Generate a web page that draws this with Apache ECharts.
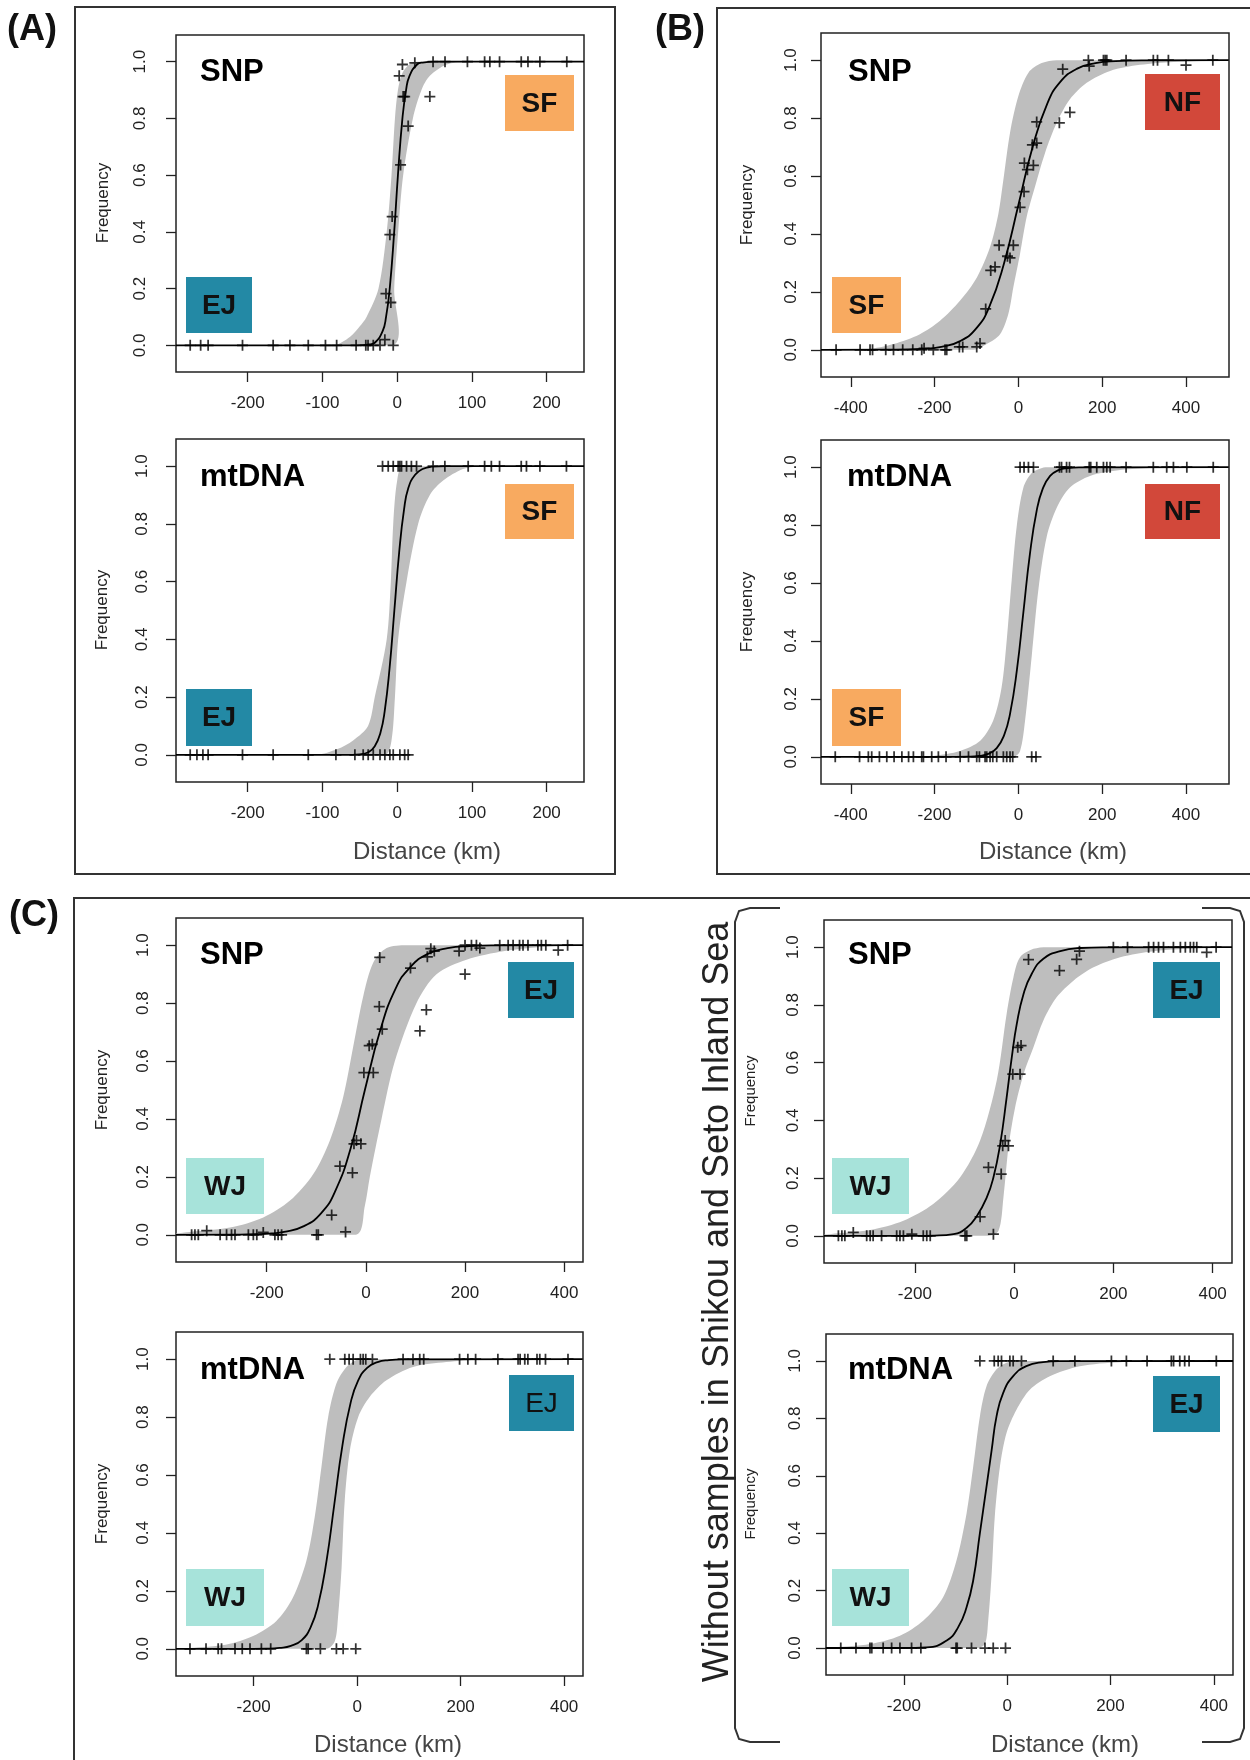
<!DOCTYPE html>
<html>
<head>
<meta charset="utf-8">
<script src="https://cdn.jsdelivr.net/npm/echarts@6/dist/echarts.min.js"></script>
<style>
  html, body { margin: 0; padding: 0; background: #fff; }
  #chart { width: 1250px; height: 1760px; }
</style>
</head>
<body>
<div id="chart"></div>
<script>
// tick labels
var ticksA = [-200, -100, 0, 100, 200];
var ticksB = [-400, -200, 0, 200, 400];
var ticksC = [-200, 0, 200, 400];
var yTicks = [0, 0.2, 0.4, 0.6, 0.8, 1.0];

// (A) SNP  EJ -> SF
var aSnpZero = [-277, -263, -253, -207, -166, -143.5, -119, -96, -81, -55, -42, -39, -32, -23, -5.3];
var aSnpOne = [48, 64, 94, 117, 124, 137, 166, 175, 191, 227];
var aSnpMid = [[-16.5, 0.02], [-15, 0.182], [-8.5, 0.151], [-9.8, 0.39], [-6.7, 0.454], [4.5, 0.636], [14.7, 0.773],
  [8, 0.877], [10, 0.877], [43.7, 0.877], [2.7, 0.95], [7, 0.99], [23.6, 0.996]];
var aSnpCurve = [[-296, 0], [-60, 0], [-45, 0.001], [-37, 0.003], [-29.6, 0.01], [-19.5, 0.05], [-14.9, 0.1],
  [-10, 0.2], [-4, 0.4], [1, 0.6], [7, 0.8], [11.9, 0.9], [16.5, 0.95], [26.6, 0.99], [34, 0.997], [50, 1], [250, 1]];
var aSnpHi = [[-296, 0], [-85, 0], [-63, 0.03], [-50, 0.067], [-41, 0.1], [-25, 0.2], [-14, 0.4], [-7.6, 0.6],
  [-3, 0.8], [1, 0.9], [7, 0.96], [16, 0.99], [26, 1], [250, 1]];
var aSnpLo = [[-296, 0], [-6, 0], [-4, 0.2], [1.3, 0.4], [8, 0.6], [21, 0.8], [32.5, 0.9], [43.7, 0.95],
  [66, 0.99], [90, 0.999], [250, 0.999]];

// (A) mtDNA
var aMtZero = [-277, -268, -260, -253, -207, -166, -119, -82, -56.6, -45.5, -38.8, -32, -23, -16.5, -9.8, -5.3, 3.6, 10, 14.7];
var aMtOne = [-19.6, -12, -5.3, 1.3, 3.6, 5.8, 12.5, 19, 25.9, 48, 63.8, 95, 117, 126, 137, 166, 173, 191, 226.5];
var aMtCurve = [[-296, 0], [-70, 0], [-50, 0.002], [-38, 0.01], [-30, 0.03], [-22.6, 0.075], [-16.8, 0.15],
  [-10.2, 0.3], [-3.8, 0.5], [2.6, 0.7], [9.2, 0.85], [15, 0.925], [24, 0.97], [34, 0.99], [46, 0.998], [65, 1], [250, 1]];
var aMtHi = [[-296, 0], [-108, 0], [-80, 0.02], [-59, 0.05], [-39, 0.1], [-30, 0.2], [-14, 0.4], [-8.5, 0.6],
  [-5.3, 0.8], [0, 0.95], [8, 1], [250, 1]];
var aMtLo = [[-296, 0], [-16.5, 0], [-7.6, 0.05], [-3, 0.2], [1.3, 0.4], [12.5, 0.6], [28, 0.8], [43.7, 0.9],
  [61.5, 0.95], [88, 0.99], [110, 0.999], [250, 0.999]];

// (B) SNP  SF -> NF
var bSnpZero = [-435, -377.7, -354, -348, -316.5, -298, -276, -252, -230.6, -203, -175, -171];
var bSnpOne = [167, 203, 207, 211, 257, 322, 332, 358, 464];
var bSnpMid = [[-225, 0.005], [-140.8, 0.01], [-132.8, 0.01], [-99.4, 0.01], [-91.5, 0.022], [-78, 0.141],
  [-66, 0.274], [-55.7, 0.286], [-46, 0.361], [-26, 0.323], [-20, 0.317], [-12, 0.361], [4, 0.492], [13.5, 0.546],
  [14.3, 0.645], [21.5, 0.622], [35.8, 0.637], [33.4, 0.708], [43.7, 0.714], [43.7, 0.787], [97.8, 0.784],
  [123, 0.82], [105.8, 0.969], [169, 0.98], [400, 0.983]];
var bSnpCurve = [[-471, 0], [-300, 0.0005], [-232, 0.003], [-184, 0.01], [-139, 0.03], [-100, 0.075], [-69, 0.15],
  [-34, 0.3], [0, 0.5], [34, 0.7], [69, 0.85], [100, 0.925], [139, 0.97], [184, 0.99], [232, 0.997], [300, 0.9995], [502, 1]];
var bSnpHi = [[-471, 0], [-362, 0.002], [-298, 0.02], [-235, 0.054], [-187, 0.1], [-139, 0.17], [-99, 0.25],
  [-67.6, 0.355], [-47.7, 0.47], [-35.8, 0.587], [-20, 0.749], [0, 0.876], [24, 0.957], [55.7, 0.99], [91.5, 1], [502, 1]];
var bSnpLo = [[-471, 0], [-107, 0], [-75.5, 0.02], [-43.7, 0.054], [-24, 0.124], [-12, 0.216], [4, 0.332],
  [20, 0.46], [39.8, 0.564], [63.6, 0.68], [91.5, 0.784], [123, 0.865], [163, 0.922], [219, 0.963], [290, 0.984],
  [370, 0.994], [502, 0.999]];

// (B) mtDNA
var bMtZero = [-437, -379, -358, -350, -331.6, -314, -296.6, -278, -262, -250.5, -230.6, -226.6, -206.8, -190.9,
  -172.6, -139, -119, -99.4, -93, -79.5, -75.5, -67.6, -61, -51.7, -35.8, -27.8, -19.9, -13.5, 31.8, 42];
var bMtOne = [4, 13.5, 24, 36, 98, 103, 115, 122, 169, 172.6, 187, 203, 211, 219, 257, 322, 354, 370, 402, 465];
var bMtCurve = [[-471, 0], [-150, 0], [-120, 0.0005], [-94, 0.003], [-72, 0.01], [-51.7, 0.03], [-34, 0.075],
  [-19.7, 0.15], [-3.5, 0.3], [12, 0.5], [27.5, 0.7], [43.7, 0.85], [58, 0.925], [75.7, 0.97], [96, 0.99],
  [118, 0.997], [145, 0.9995], [502, 1]];
var bMtHi = [[-471, 0], [-235, 0], [-203, 0.003], [-139, 0.02], [-91, 0.055], [-60, 0.125], [-40, 0.24],
  [-28, 0.4], [-16, 0.61], [-4, 0.795], [12, 0.93], [32, 0.98], [60, 0.999], [80, 1], [502, 1]];
var bMtLo = [[-471, 0], [-12, 0], [4, 0.02], [16, 0.125], [32, 0.35], [48, 0.58], [67.6, 0.76], [91.5, 0.86],
  [123, 0.93], [171, 0.97], [243, 0.99], [322, 0.997], [502, 0.999]];

// (C) SNP  WJ -> EJ
var cSnpZero = [-351.5, -344.8, -338, -294, -281, -271, -264, -237, -227, -220, -183.5, -177, -170, -99.5, -96];
var cSnpOne = [200, 213, 223, 270, 287, 297, 310, 317, 327, 347, 354, 363, 407];
var cSnpMid = [[-321, 0.014], [-207, 0.008], [-41, 0.01], [-69, 0.068], [-52.4, 0.237], [-27, 0.214],
  [-24, 0.314], [-19, 0.326], [-10, 0.314], [-4, 0.56], [15, 0.56], [6.7, 0.653], [13, 0.658], [27, 0.788],
  [33, 0.71], [28, 0.958], [90, 0.921], [109, 0.704], [122, 0.777], [124, 0.96], [131, 0.988], [138, 0.98],
  [188, 0.98], [200, 0.9], [230, 0.99], [388, 0.983]];
var cSnpCurve = [[-383, 0], [-260, 0.0008], [-223, 0.002], [-190, 0.005], [-165, 0.01], [-125, 0.03], [-90, 0.075],
  [-62, 0.15], [-30.5, 0.3], [-2, 0.5], [28, 0.7], [60, 0.85], [90, 0.925], [125, 0.97], [165, 0.99], [209, 0.997],
  [260, 0.9992], [438, 1]];
var cSnpHi = [[-383, 0.004], [-355, 0.01], [-274, 0.025], [-207, 0.06], [-153, 0.118], [-106, 0.21],
  [-72.6, 0.326], [-45.7, 0.476], [-25.5, 0.65], [-5.4, 0.823], [15, 0.94], [42, 0.99], [82, 1], [438, 1]];
var cSnpLo = [[-383, 0], [-20, 0], [-2, 0.1], [8, 0.2], [31.6, 0.4], [58.5, 0.6], [102, 0.8], [142.5, 0.9],
  [203, 0.95], [280, 0.98], [360, 0.995], [438, 0.998]];

// (C) mtDNA
var cMtZero = [-323, -292, -268.5, -262, -236, -222, -207, -185, -167, -98, -94.6, -71, -40, -27, -2.6];
var cMtOne = [-52.8, -23.8, -15.5, -7.7, 6.4, 11.6, 16.7, 29.6, 88.8, 108, 121, 128.7, 198, 214, 229, 272, 311,
  315, 324, 330, 347.6, 353, 364, 407.5];
var cMtCurve = [[-350, 0], [-200, 0], [-175, 0.0005], [-150, 0.003], [-128, 0.01], [-107, 0.03], [-89.7, 0.075],
  [-75.5, 0.15], [-59.4, 0.3], [-44, 0.5], [-28.6, 0.7], [-12.5, 0.85], [1.7, 0.925], [19.3, 0.97], [39.6, 0.99],
  [61.6, 0.997], [88, 0.9995], [436, 1]];
var cMtHi = [[-350, 0], [-323, 0.003], [-252, 0.015], [-201, 0.044], [-156, 0.096], [-124, 0.177], [-98, 0.304],
  [-82, 0.454], [-69, 0.627], [-56, 0.8], [-40, 0.916], [-20.6, 0.973], [-1, 0.997], [18, 1], [436, 1]];
var cMtLo = [[-350, 0], [-59, 0], [-43, 0.027], [-37, 0.107], [-30, 0.28], [-24, 0.51], [-14, 0.685], [2, 0.8],
  [24.5, 0.87], [56.7, 0.927], [108, 0.973], [172.5, 0.99], [237, 0.998], [436, 0.999]];

// (C) without Shikou / Seto Inland Sea, SNP
var dSnpZero = [-354, -347, -341, -297, -290, -284, -267, -236.6, -230, -223, -183, -176, -169, -98.8, -95.4];
var dSnpOne = [200, 228.5, 271, 281, 291, 301, 321, 335, 345, 355, 361.6, 368, 407];
var dSnpMid = [[-324, 0.012], [-206, 0.006], [-41.7, 0.006], [-68.5, 0.066], [-51.7, 0.237], [-26, 0.214],
  [-23, 0.312], [-18, 0.33], [-11.4, 0.312], [-2.7, 0.56], [12, 0.56], [7.4, 0.653], [14, 0.659], [29, 0.957],
  [91.4, 0.919], [126, 0.958], [131.7, 0.986], [388, 0.982]];
var dSnpCurve = [[-383, 0], [-200, 0], [-160, 0.001], [-122, 0.006], [-95, 0.029], [-75, 0.069], [-55, 0.133],
  [-41.7, 0.202], [-28, 0.318], [-15, 0.48], [-4.7, 0.618], [5.4, 0.734], [19, 0.838], [35.6, 0.908], [59, 0.96],
  [93, 0.986], [133, 0.997], [180, 0.9995], [439, 1]];
var dSnpHi = [[-383, 0.004], [-371, 0.006], [-290, 0.02], [-223, 0.052], [-163, 0.11], [-109, 0.202],
  [-68.5, 0.33], [-35, 0.538], [-15, 0.769], [-1.3, 0.896], [12, 0.965], [39, 0.994], [66, 1], [439, 1]];
var dSnpLo = [[-383, 0], [-55, 0], [-31.6, 0.017], [-21.5, 0.133], [-11.4, 0.306], [2, 0.445], [19, 0.56],
  [39, 0.653], [59, 0.746], [86, 0.827], [119.6, 0.884], [160, 0.93], [213.7, 0.965], [281, 0.986], [382, 0.997],
  [439, 0.998]];

// (C) without Shikou / Seto Inland Sea, mtDNA
var dMtZero = [-322, -292.6, -265.5, -262, -240, -223.6, -207.5, -185, -167, -99, -96.7, -69, -43, -27, -3.2];
var dMtOne = [-52.8, -25, -17.4, -11, 5.2, 11.6, 27.7, 89, 131, 201.7, 230.7, 270.7, 317.7, 322, 334, 343.5, 352, 404.7];
var dMtCurve = [[-351, 0], [-200, 0], [-156, 0.002], [-117, 0.026], [-95, 0.072], [-78.6, 0.142], [-65.7, 0.236],
  [-52.8, 0.4], [-40, 0.562], [-30, 0.69], [-20.6, 0.807], [-7.7, 0.889], [11.6, 0.947], [37, 0.982],
  [69.6, 0.996], [100, 0.9995], [437, 1]];
var dMtHi = [[-351, 0], [-336, 0.002], [-265.5, 0.014], [-207.5, 0.043], [-162, 0.096], [-124, 0.177],
  [-98, 0.306], [-78.6, 0.469], [-65.7, 0.632], [-52.8, 0.807], [-40, 0.912], [-20.6, 0.971], [-1.3, 0.994],
  [18, 1], [437, 1]];
var dMtLo = [[-351, 0], [-59, 0], [-43, 0.014], [-36.7, 0.096], [-30, 0.26], [-24, 0.457], [-14, 0.632],
  [-1.3, 0.749], [18, 0.83], [43.8, 0.9], [82.5, 0.947], [140.5, 0.982], [218, 0.996], [314.5, 0.999], [437, 0.999]];

var FONT = '"Liberation Sans", Arial, Helvetica, sans-serif';
var PLUS = 'path://M4.2,0H5.8V4.2H10V5.8H5.8V10H4.2V5.8H0V4.2H4.2Z';
var COL = { EJ: '#2389a5', SF: '#f8aa60', NF: '#d2483a', WJ: '#a7e3da' };

function pts(zero, one, mid) {
  return zero.map(function (x) { return [x, 0]; })
    .concat(one.map(function (x) { return [x, 1]; }), mid || []);
}

var panels = [
  { grid: [176, 35, 408, 337], x: [-296, 250], ticks: ticksA, yGap: 27, data: pts(aSnpZero, aSnpOne, aSnpMid),
    curve: aSnpCurve, hi: aSnpHi, lo: aSnpLo, tag: 'SNP', tagXY: [200, 72], freq: [103, 203],
    boxes: [['EJ', 186, 277, 66, 56], ['SF', 505, 75, 69, 56]] },
  { grid: [176, 439, 408, 343], x: [-296, 250], ticks: ticksA, yGap: 25, data: pts(aMtZero, aMtOne),
    curve: aMtCurve, hi: aMtHi, lo: aMtLo, tag: 'mtDNA', tagXY: [200, 477], freq: [102, 610], dist: [427, 852],
    boxes: [['EJ', 186, 689, 66, 57], ['SF', 505, 484, 69, 55]] },
  { grid: [821, 33, 408, 344], x: [-471, 502.6], ticks: ticksB, yGap: 21, data: pts(bSnpZero, bSnpOne, bSnpMid),
    curve: bSnpCurve, hi: bSnpHi, lo: bSnpLo, tag: 'SNP', tagXY: [848, 72], freq: [747, 205],
    boxes: [['SF', 832, 277, 69, 56], ['NF', 1145, 74, 75, 56]] },
  { grid: [821, 440, 408, 344], x: [-471, 502.6], ticks: ticksB, yGap: 21, data: pts(bMtZero, bMtOne),
    curve: bMtCurve, hi: bMtHi, lo: bMtLo, tag: 'mtDNA', tagXY: [847, 477], freq: [747, 612], dist: [1053, 852],
    boxes: [['SF', 832, 689, 69, 57], ['NF', 1145, 484, 75, 55]] },
  { grid: [176, 918, 407, 344], x: [-383, 438], ticks: ticksC, yGap: 24, data: pts(cSnpZero, cSnpOne, cSnpMid),
    curve: cSnpCurve, hi: cSnpHi, lo: cSnpLo, tag: 'SNP', tagXY: [200, 955], freq: [102, 1090],
    boxes: [['WJ', 186, 1158, 78, 56], ['EJ', 508, 962, 66, 56]] },
  { grid: [176, 1332, 407, 344], x: [-350, 436.5], ticks: ticksC, yGap: 24, data: pts(cMtZero, cMtOne),
    curve: cMtCurve, hi: cMtHi, lo: cMtLo, tag: 'mtDNA', tagXY: [200, 1370], freq: [102, 1504], dist: [388, 1745],
    boxes: [['WJ', 186, 1569, 78, 57], ['EJ', 509, 1375, 65, 56, 'normal']] },
  { grid: [824, 920, 408, 343], x: [-383, 439], ticks: ticksC, yGap: 22, data: pts(dSnpZero, dSnpOne, dSnpMid),
    curve: dSnpCurve, hi: dSnpHi, lo: dSnpLo, tag: 'SNP', tagXY: [848, 955], freq: [751, 1091], freqSize: 15,
    boxes: [['WJ', 832, 1158, 77, 56], ['EJ', 1153, 962, 67, 56]] },
  { grid: [826, 1334, 407, 341], x: [-350.6, 437], ticks: ticksC, yGap: 22, data: pts(dMtZero, dMtOne),
    curve: dMtCurve, hi: dMtHi, lo: dMtLo, tag: 'mtDNA', tagXY: [848, 1370], freq: [751, 1504], freqSize: 15,
    dist: [1065, 1745], boxes: [['WJ', 832, 1569, 77, 57], ['EJ', 1153, 1376, 67, 56]] }
];

function bandItem(hi, lo) {
  return function (params, api) {
    if (params.dataIndex !== 0) return;
    var poly = hi.map(function (p) { return api.coord(p); })
      .concat(lo.slice().reverse().map(function (p) { return api.coord(p); }));
    // keep the smoothed outline inside the points' own bounding box
    var box = [[poly[0][0], poly[0][1]], [poly[0][0], poly[0][1]]];
    return {
      type: 'polygon',
      shape: { points: poly, smooth: 0.3, smoothConstraint: box },
      style: { fill: '#bebebe' }
    };
  };
}

var frameStyle = { fill: 'none', stroke: '#333', lineWidth: 2 };
var grids = [], xAxes = [], yAxes = [], series = [];
var graphics = [
  // panel frames
  { type: 'rect', shape: { x: 75, y: 7, width: 540, height: 867 }, style: frameStyle },
  { type: 'rect', shape: { x: 717, y: 8, width: 560, height: 866 }, style: frameStyle },
  { type: 'rect', shape: { x: 74, y: 898, width: 1200, height: 900 }, style: frameStyle },
  { type: 'text', x: 7, y: 30, style: { text: '(A)', font: 'bold 36px ' + FONT, fill: '#111', textVerticalAlign: 'middle' } },
  { type: 'text', x: 655, y: 30, style: { text: '(B)', font: 'bold 36px ' + FONT, fill: '#111', textVerticalAlign: 'middle' } },
  { type: 'text', x: 9, y: 916, style: { text: '(C)', font: 'bold 36px ' + FONT, fill: '#111', textVerticalAlign: 'middle' } },
  // bracket around the right half of (C)
  { type: 'polyline', shape: { points: [[780, 908], [750, 908], [739, 911], [735, 922], [735, 1728], [739, 1739], [750, 1742], [780, 1742]] },
    style: frameStyle },
  { type: 'polyline', shape: { points: [[1202, 908], [1230, 908], [1240, 911], [1244, 922], [1244, 1728], [1240, 1739], [1230, 1742], [1202, 1742]] },
    style: frameStyle },
  { type: 'text', x: 718, y: 1302, rotation: Math.PI / 2,
    style: { text: 'Without samples in Shikou and Seto Inland Sea', font: '36px ' + FONT, fill: '#222',
      textAlign: 'center', textVerticalAlign: 'middle' } }
];

panels.forEach(function (p, i) {
  grids.push({ left: p.grid[0], top: p.grid[1], width: p.grid[2], height: p.grid[3], show: true,
    borderColor: '#222', borderWidth: 1.5, backgroundColor: 'transparent', containLabel: false });
  xAxes.push({
    gridIndex: i, type: 'value', min: p.x[0], max: p.x[1], position: 'bottom',
    axisLine: { show: false, onZero: false }, splitLine: { show: false },
    axisTick: { show: true, length: 10, customValues: p.ticks, lineStyle: { color: '#222', width: 1.3 } },
    axisLabel: { customValues: p.ticks, margin: 23, fontSize: 17, color: '#222', fontFamily: FONT }
  });
  yAxes.push({
    gridIndex: i, type: 'value', min: -0.094, max: 1.094, position: 'left',
    axisLine: { show: false, onZero: false }, splitLine: { show: false },
    axisTick: { show: true, length: 10, customValues: yTicks, lineStyle: { color: '#222', width: 1.3 } },
    axisLabel: { customValues: yTicks, rotate: 90, margin: p.yGap, fontSize: 17, color: '#222', fontFamily: FONT,
      formatter: function (v) { return v.toFixed(1); } }
  });
  series.push({
    type: 'custom', xAxisIndex: i, yAxisIndex: i, clip: true, silent: true, z: 1,
    data: [[0, 0]], renderItem: bandItem(p.hi, p.lo)
  });
  series.push({
    type: 'line', xAxisIndex: i, yAxisIndex: i, data: p.curve, showSymbol: false, silent: true,
    smooth: 0.5, lineStyle: { color: '#000', width: 1.8 }, z: 3
  });
  series.push({
    type: 'scatter', xAxisIndex: i, yAxisIndex: i, data: p.data, symbol: PLUS, symbolSize: 11,
    itemStyle: { color: '#000' }, silent: true, z: 4
  });

  graphics.push({ type: 'text', x: p.tagXY[0], y: p.tagXY[1],
    style: { text: p.tag, font: 'bold 31px ' + FONT, fill: '#000', textVerticalAlign: 'middle' } });
  graphics.push({ type: 'text', x: p.freq[0], y: p.freq[1], rotation: Math.PI / 2,
    style: { text: 'Frequency', font: (p.freqSize || 17) + 'px ' + FONT, fill: '#222',
      textAlign: 'center', textVerticalAlign: 'middle' } });
  if (p.dist) {
    graphics.push({ type: 'text', x: p.dist[0], y: p.dist[1],
      style: { text: 'Distance (km)', font: '24px ' + FONT, fill: '#444',
        textAlign: 'center', textVerticalAlign: 'middle' } });
  }
  p.boxes.forEach(function (b) {
    graphics.push({ type: 'rect', shape: { x: b[1], y: b[2], width: b[3], height: b[4] },
      style: { fill: COL[b[0]] }, z: 10 });
    graphics.push({ type: 'text', x: b[1] + b[3] / 2, y: b[2] + b[4] / 2 + 1, z: 11,
      style: { text: b[0], font: (b[5] || 'bold') + ' 28px ' + FONT, fill: '#111',
        textAlign: 'center', textVerticalAlign: 'middle' } });
  });
});

var chart = echarts.init(document.getElementById('chart'), null, { renderer: 'canvas' });
chart.setOption({
  animation: false,
  backgroundColor: '#fff',
  grid: grids,
  xAxis: xAxes,
  yAxis: yAxes,
  series: series,
  graphic: { elements: graphics }
});
</script>
</body>
</html>
